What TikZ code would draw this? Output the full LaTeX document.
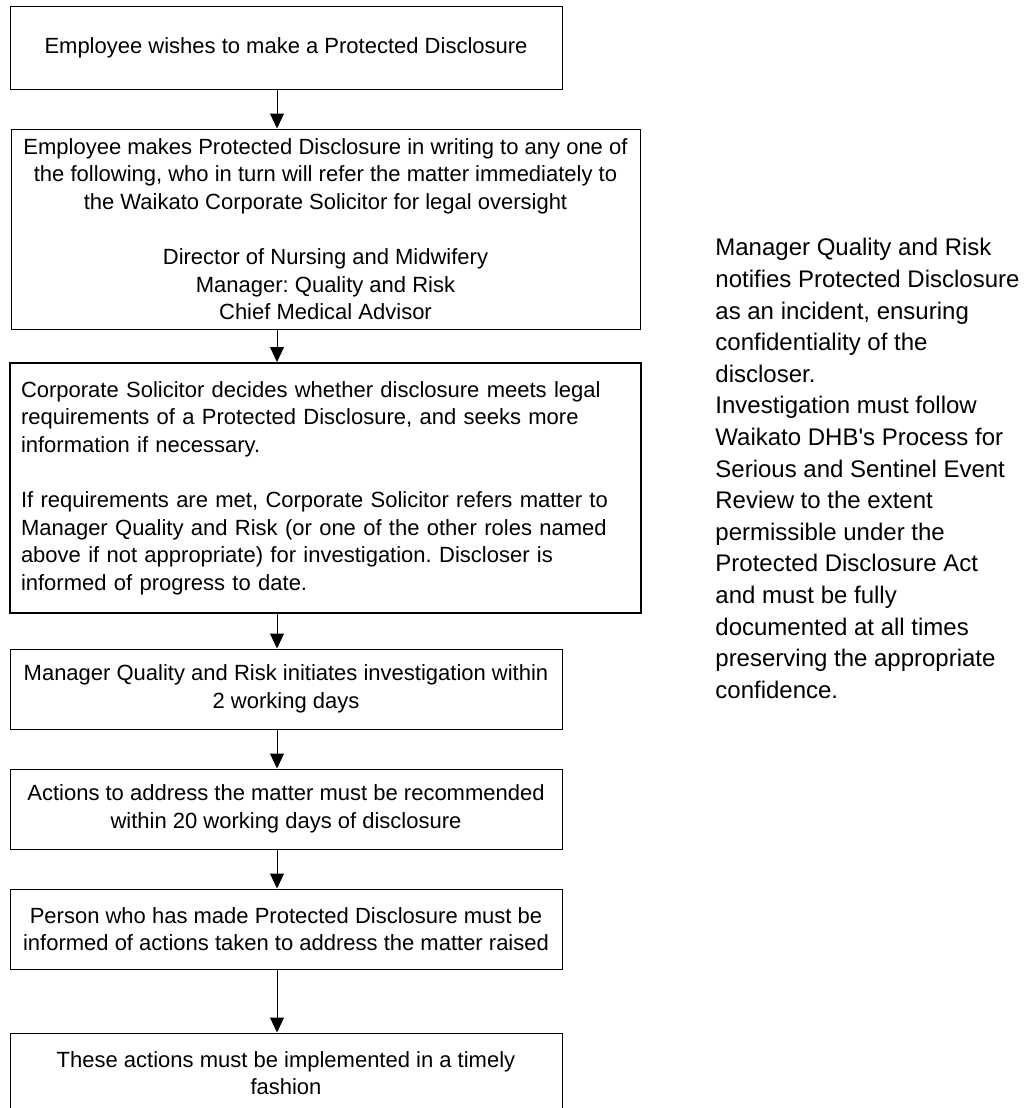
\documentclass[tikz,border=0pt]{standalone}
\usepackage{fontspec}
\setmainfont{Liberation Sans}
\usepackage{tikz}
\usetikzlibrary{arrows.meta}
\frenchspacing
\tikzset{
stage box/.style = { rectangle, draw = black, fill = white, line width = 0.5pt, inner sep = 0pt, align = center, minimum width = 276pt, minimum height = 40pt, font = \fontsize{11pt}{13.8pt}\selectfont },
review box/.style = { stage box, line width = 1pt, align = left, inner xsep = 5.5pt, text width = 304.5pt, minimum height = 125pt },
side note/.style = { draw = none, fill = none, align = left, inner sep = 0pt, font = \fontsize{12pt}{15.8pt}\selectfont },
}

\begin{document}
\begin{tikzpicture}[x=0.5pt, y=-0.5pt]
      \useasboundingbox (0,0) rectangle (1036,1108);
      \coordinate (spine) at (277,0);
      \begin{scope}
        \node[stage box, minimum height = 41.5pt] (wish) at (286,47.5) {Employee wishes to make a Protected Disclosure};
        \node[stage box, minimum width = 314.5pt, minimum height = 100pt] (writing) at (325.5,229) {Employee makes Protected Disclosure in writing to any one of\\ the following, who in turn will refer the matter immediately to\\ the Waikato Corporate Solicitor for legal oversight\\[13.8pt] Director of Nursing and Midwifery\\ Manager: Quality and Risk\\ Chief Medical Advisor};
        \node[review box] (solicitor) at (325.5,488) {Corporate Solicitor decides whether disclosure meets legal\\ requirements of a Protected Disclosure, and seeks more\\ information if necessary.\\[13.8pt] If requirements are met, Corporate Solicitor refers matter to\\ Manager Quality and Risk (or one of the other roles named\\ above if not appropriate) for investigation. Discloser is\\ informed of progress to date.};
        \node[stage box] (initiate) at (286,689) {Manager Quality and Risk initiates investigation within\\ 2 working days};
        \node[stage box] (recommend) at (286,809) {Actions to address the matter must be recommended\\ within 20 working days of disclosure};
        \node[stage box] (inform) at (286,929) {Person who has made Protected Disclosure must be\\ informed of actions taken to address the matter raised};
        \node[stage box] (implement) at (286,1073) {These actions must be implemented in a timely\\ fashion};
      \end{scope}
      \node[side note, anchor = west] (notify) at (715,468.5) {Manager Quality and Risk\\ notifies Protected Disclosure\\ as an incident, ensuring\\ confidentiality of the\\ discloser.\\ Investigation must follow\\ Waikato DHB\textquotesingle s Process for\\ Serious and Sentinel Event\\ Review to the extent\\ permissible under the\\ Protected Disclosure Act\\ and must be fully\\ documented at all times\\ preserving the appropriate\\ confidence.};
      \begin{scope}[>={Triangle[black, width=7pt, length=7.5pt]},
                    every edge/.style={draw=black, line width=0.5pt}]
        \path [->] (wish.south -| spine) edge (writing.north -| spine);
        \path [->] (writing.south -| spine) edge (solicitor.north -| spine);
        \path [->] (solicitor.south -| spine) edge (initiate.north -| spine);
        \path [->] (initiate.south -| spine) edge (recommend.north -| spine);
        \path [->] (recommend.south -| spine) edge (inform.north -| spine);
        \path [->] (inform.south -| spine) edge (implement.north -| spine);
      \end{scope}
    \end{tikzpicture}
\end{document}
